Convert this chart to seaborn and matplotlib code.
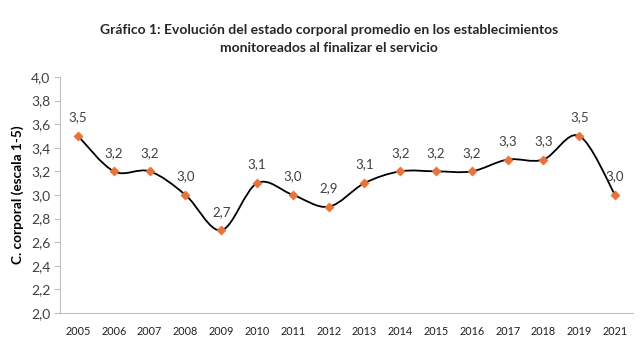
import matplotlib
matplotlib.use("Agg")
import matplotlib.pyplot as plt
import numpy as np
import pandas as pd
import seaborn as sns
from matplotlib.path import Path
from matplotlib.patches import PathPatch

# Data
years = ["2005", "2006", "2007", "2008", "2009", "2010", "2011", "2012",
         "2013", "2014", "2015", "2016", "2017", "2018", "2019", "2021"]
scores = [3.5, 3.2, 3.2, 3.0, 2.7, 3.1, 3.0, 2.9,
          3.1, 3.2, 3.2, 3.2, 3.3, 3.3, 3.5, 3.0]

df = pd.DataFrame({"year": years, "score": scores})

sns.set_style("white")
plt.rcParams["font.family"] = ["Lato", "DejaVu Sans"]

fig = plt.figure(figsize=(6.4, 3.58), dpi=100)
ax = fig.add_axes([0.094, 0.126, 0.895, 0.659])

x = np.arange(len(years))
y = np.array(scores)

# smoothed line (Excel-like Catmull-Rom bezier)
verts = [(x[0], y[0])]
codes = [Path.MOVETO]
for i in range(len(x) - 1):
    p0 = np.array([x[max(i - 1, 0)], y[max(i - 1, 0)]])
    p1 = np.array([x[i], y[i]])
    p2 = np.array([x[i + 1], y[i + 1]])
    p3 = np.array([x[min(i + 2, len(x) - 1)], y[min(i + 2, len(x) - 1)]])
    c1 = p1 + (p2 - p0) / 6
    c2 = p2 - (p3 - p1) / 6
    verts += [tuple(c1), tuple(c2), tuple(p2)]
    codes += [Path.CURVE4] * 3
ax.add_patch(PathPatch(Path(verts, codes), facecolor="none",
                       edgecolor="black", lw=1.3, zorder=2))

sns.scatterplot(data=df, x="year", y="score", ax=ax, marker="D", s=22,
                color="#E8743B", edgecolor="#E8743B", zorder=3, legend=False)

for xi, yi in zip(x, scores):
    ax.annotate(f"{yi:.1f}".replace(".", ","), (xi, yi), xytext=(0, 9),
                textcoords="offset points", ha="center", va="bottom",
                fontsize=9.5, color="#404040")

ax.set_xlim(-0.5, len(years) - 0.5)
ax.set_ylim(2.0, 4.0)
yt = np.arange(2.0, 4.01, 0.2)
ax.set_yticks(yt)
ax.set_yticklabels([f"{v:.1f}".replace(".", ",") for v in yt],
                   fontsize=10, color="#404040")
ax.set_xticks(x)
ax.set_xticklabels(years, fontsize=7.8, color="#202020")

for side in ["top", "right"]:
    ax.spines[side].set_visible(False)
ax.spines["left"].set_color("#BFBFBF")
ax.spines["bottom"].set_color("#BFBFBF")
ax.tick_params(axis="y", which="major", left=True, length=4, color="#BFBFBF", pad=3)
ax.tick_params(axis="x", bottom=False, pad=6)

ax.set_xlabel("")
ax.set_ylabel("C. corporal (escala 1-5)", fontsize=9.8, fontweight="bold",
              color="black", labelpad=5)

fig.text(0.514, 0.915, "Gráfico 1: Evolución del estado corporal promedio en los establecimientos",
         ha="center", va="center", fontsize=10, fontweight="bold")
fig.text(0.514, 0.866, "monitoreados al finalizar el servicio",
         ha="center", va="center", fontsize=10, fontweight="bold")

fig.savefig("out.png", dpi=100)
